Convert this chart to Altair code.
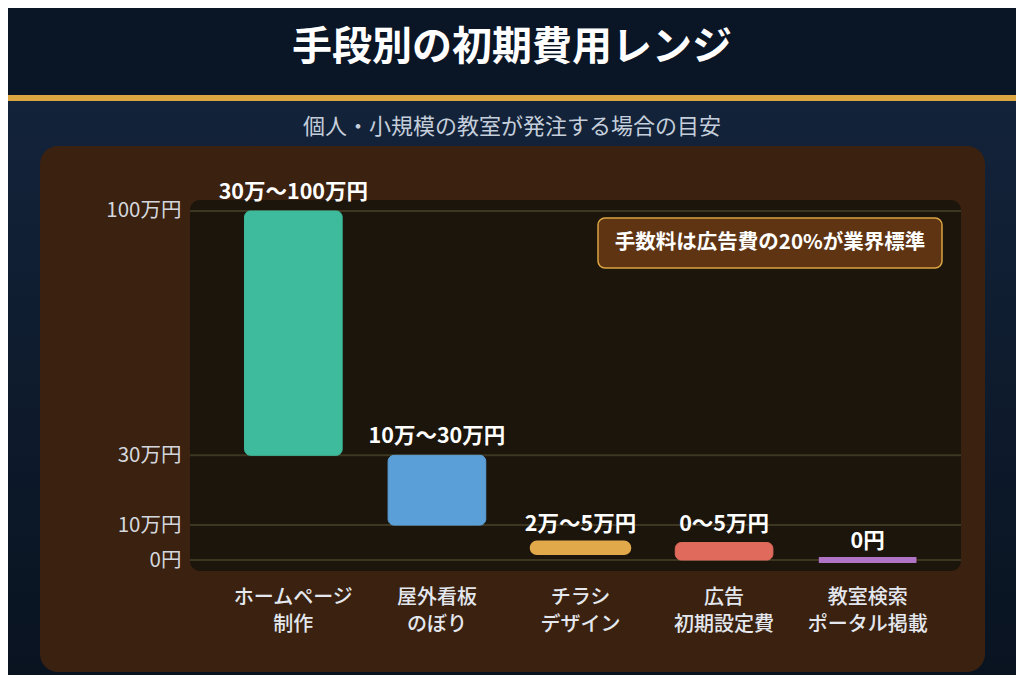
import altair as alt
import pandas as pd

# --- data ---
categories = ["ホームページ|制作", "屋外看板|のぼり", "チラシ|デザイン", "広告|初期設定費", "教室検索|ポータル掲載"]
cost_low = [30, 10, 2, 0, 0]
cost_high = [100, 30, 5, 5, 0]
range_labels = ["30万～100万円", "10万～30万円", "2万～5万円", "0～5万円", "0円"]
bar_colors = ["#3dbb9c", "#5b9fd8", "#e2a94a", "#e06b5c", "#b073c6"]
y_ticks = [0, 10, 30, 100]
y_tick_labels = ["0円", "10万円", "30万円", "100万円"]

title_text = "手段別の初期費用レンジ"
subtitle_text = "個人・小規模の教室が発注する場合の目安"
note_text = "手数料は広告費の20%が業界標準"

FONT = "Noto Sans CJK JP"
W, H = 771, 371
SHIFT = 5  # dark plot panel starts a little left of the band scale

df = pd.DataFrame({"cat": categories, "low": cost_low, "high": cost_high, "label": range_labels})
ticks_df = pd.DataFrame({"v": y_ticks})
one = pd.DataFrame({"k": [0]})

y_label_expr = " : ".join(f"datum.value == {v} ? '{t}'" for v, t in zip(y_ticks, y_tick_labels)) + " : ''"

yscale = alt.Scale(domain=[-3.15, 103.15], nice=False, zero=False)
xscale = alt.Scale(domain=categories, paddingInner=0.32, paddingOuter=0.345)
cscale = alt.Scale(domain=categories, range=bar_colors)

x_axis = alt.Axis(labelExpr="split(datum.label, '|')", labelAngle=0, labelFont=FONT,
                  labelFontSize=20, labelFontWeight=500, labelColor="#e4e8ee", labelPadding=16,
                  labelLineHeight=27, ticks=False, domain=False, grid=False, zindex=2, title=None)
y_axis = alt.Axis(values=y_ticks, labelExpr=y_label_expr, grid=False, ticks=False, domain=False,
                  labelFont=FONT, labelFontSize=20.5, labelColor="#d4d8de", labelPadding=9 + SHIFT,
                  zindex=2, title=None)


def box(x, x2, y, y2, **kw):
    return alt.Chart(one).mark_rect(**kw).encode(
        x=alt.value(x), x2=alt.value(x2), y=alt.value(y), y2=alt.value(y2)
    )


def text(s, x, y, **kw):
    return alt.Chart(one).mark_text(text=s, font=FONT, align="center", baseline="middle", **kw).encode(
        x=alt.value(x), y=alt.value(y)
    )


# ----------------------------------------
# page decoration
# ----------------------------------------
body = box(-195, 829, -100, 483, color=alt.Gradient(
    gradient="linear",
    stops=[alt.GradientStop(color="#13233a", offset=0), alt.GradientStop(color="#091320", offset=1)],
    x1=0, x2=0, y1=0, y2=1))
header = box(-195, 829, -200, -105, color="#0a1525")
gold_line = box(-195, 829, -105, -99, color="#dba541")
panel = box(-155, 790, -54, 472, color="#3a2110", cornerRadius=18)
plot_bg = box(-SHIFT, W - SHIFT, 0, H, color="#1c150c", cornerRadius=10)

title = text(title_text, 317, -152, fontSize=40, fontWeight="bold", color="#ffffff")
subtitle = text(subtitle_text, 317, -73, fontSize=22, color="#c5cedb")

# ----------------------------------------
# chart
# ----------------------------------------
grid = alt.Chart(ticks_df).mark_rule(color="#3d3722", strokeWidth=2).encode(
    y=alt.Y("v:Q", scale=yscale, axis=y_axis),
    x=alt.value(-SHIFT), x2=alt.value(W - SHIFT),
)

# very short ranges get a thicker outline so they stay visible
bars = alt.Chart(df).mark_bar(
    cornerRadius=6,
    strokeWidth=alt.expr("datum.high - datum.low == 0 ? 6 : datum.high - datum.low < 4 ? 4 : 1"),
).encode(
    x=alt.X("cat:N", sort=categories, scale=xscale, axis=x_axis),
    y=alt.Y("low:Q", scale=yscale, axis=y_axis),
    y2="high:Q",
    color=alt.Color("cat:N", scale=cscale, legend=None),
    stroke=alt.Stroke("cat:N", scale=cscale, legend=None),
)

values = alt.Chart(df).mark_text(font=FONT, fontSize=21.5, fontWeight="bold", color="#ffffff",
                                 baseline="bottom", dy=-7).encode(
    x=alt.X("cat:N", sort=categories, scale=xscale, axis=x_axis),
    y=alt.Y("high:Q", scale=yscale, axis=y_axis),
    text="label:N",
)

note_box = box(403, 747, 18, 68, fill="#5e3413", stroke="#d9a441", strokeWidth=1.5, cornerRadius=7)
note = text(note_text, 575, 43, fontSize=20.5, fontWeight="bold", color="#ffffff")

chart = alt.layer(
    body, header, gold_line, panel, plot_bg, grid, bars, values, note_box, note, title, subtitle
).properties(
    width=W, height=H,
    padding={"left": 187, "top": 192, "right": 50, "bottom": 104},
    autosize="none",
    background="#0c1828",
).configure_view(stroke="transparent").configure_axis(zindex=2)

chart.save("out.html", embed_options={"renderer": "svg", "actions": False})
